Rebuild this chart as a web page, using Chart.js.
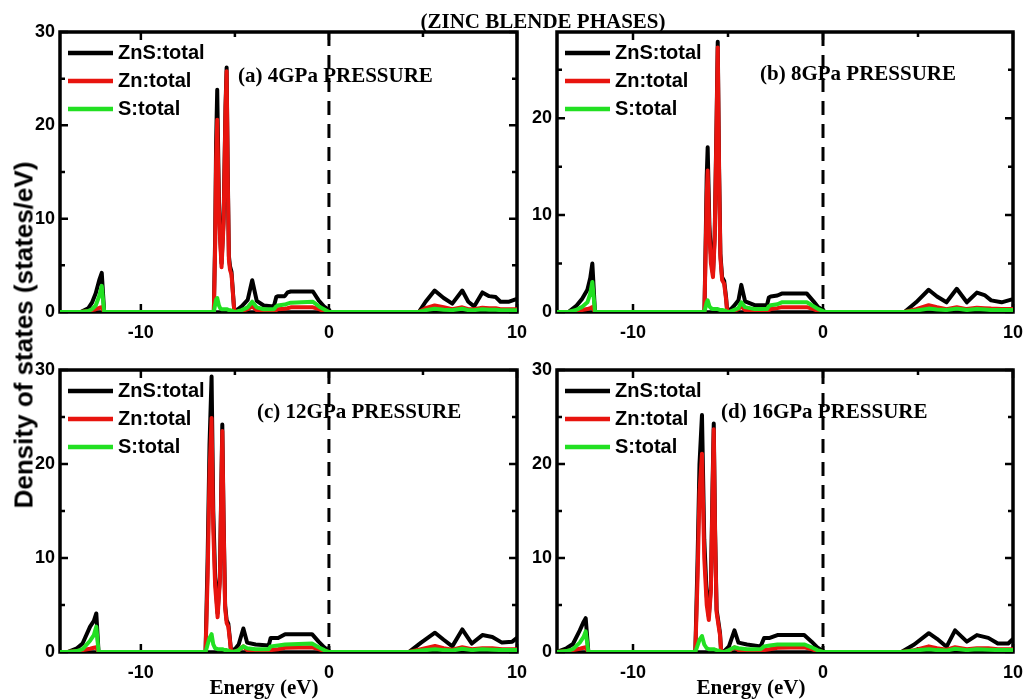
<!DOCTYPE html>
<html>
<head>
<meta charset="utf-8">
<title>ZnS zinc blende DOS</title>
<script src="https://cdn.jsdelivr.net/npm/chart.js@4.4.1/dist/chart.umd.min.js"></script>
<style>
  html, body { margin: 0; padding: 0; background: #fff; }
  body { width: 1023px; height: 699px; position: relative; overflow: hidden; }
  canvas { position: absolute; left: 0; top: 0; }
  .lbl { position: absolute; white-space: nowrap; color: #000; font-weight: bold; transform: translate(-50%, -50%); }
  .serif { font-family: "Liberation Serif", "Times New Roman", serif; }
  .sans { font-family: "Liberation Sans", Arial, sans-serif; }
</style>
</head>
<body>
<canvas id="pa" width="1023" height="699"></canvas>
<canvas id="pb" width="1023" height="699"></canvas>
<canvas id="pc" width="1023" height="699"></canvas>
<canvas id="pd" width="1023" height="699"></canvas>

<div class="lbl serif" style="left:543px; top:21px; font-size:21px;">(ZINC BLENDE PHASES)</div>
<div class="lbl sans" style="left:24px; top:335px; font-size:26px; transform: translate(-50%, -50%) rotate(-90deg);">Density of states (states/eV)</div>
<div class="lbl serif" style="left:264px; top:687px; font-size:21px;">Energy (eV)</div>
<div class="lbl serif" style="left:751px; top:687px; font-size:21px;">Energy (eV)</div>

<script>
// series names and tick values
const seriesNames = ["ZnS:total", "Zn:total", "S:total"];
const xTickValues = [-10, -5, 0, 5, 10];
const yTickValues = [0, 5, 10, 15, 20, 25, 30];

// (a) 4 GPa
const aEnergy = [-14.3, -13.2, -12.8, -12.6, -12.4, -12.2, -12.08, -11.95, -6.12, -6.05,
  -6.0, -5.94, -5.85, -5.78, -5.71, -5.6, -5.5, -5.44, -5.38, -5.32,
  -5.26, -5.18, -5.1, -5.03, -4.96, -4.64, -4.32, -4.08, -3.84, -3.47,
  -2.93, -2.8, -2.72, -2.35, -2.2, -2.03, -0.85, -0.53, -0.27, 0,
  0.1, 4.78, 5.14, 5.62, 6.1, 6.56, 7.09, 7.41, 7.72, 8.16,
  8.52, 8.87, 9.12, 9.58, 10.0];
const aZnS = [0, 0, 0.4, 1.0, 2.0, 3.5, 4.2, 0, 0, 8,
  18, 23.8, 12, 8, 5.2, 10, 22, 26.2, 15, 6,
  4.9, 4.3, 2, 0, 0.1, 0.6, 1.3, 3.4, 1.2, 0.7,
  0.6, 1.6, 1.7, 1.7, 2.1, 2.2, 2.2, 1.2, 0.6, 0.2,
  0, 0, 1.1, 2.3, 1.5, 0.9, 2.3, 1.1, 0.6, 2.1,
  1.7, 1.6, 1.1, 1.1, 1.4];
const aZn = [0, 0, 0.1, 0.2, 0.3, 0.45, 0.5, 0, 0, 7,
  16, 20.6, 11, 7.5, 4.8, 9.5, 21.5, 25.8, 14.5, 5.6,
  4.5, 4.0, 1.8, 0, 0, 0.1, 0.3, 0.6, 0.2, 0.1,
  0.1, 0.2, 0.3, 0.35, 0.4, 0.5, 0.5, 0.3, 0.1, 0,
  0, 0, 0.4, 0.7, 0.5, 0.3, 0.5, 0.3, 0.3, 0.45,
  0.4, 0.4, 0.3, 0.3, 0.3];
const aS = [0, 0, 0.1, 0.3, 0.7, 1.8, 2.8, 0, 0, 0.8,
  1.3, 1.5, 0.7, 0.4, 0.3, 0.3, 0.3, 0.3, 0.25, 0.2,
  0.2, 0.15, 0.1, 0, 0, 0.2, 0.5, 1.1, 0.5, 0.3,
  0.3, 0.6, 0.7, 0.8, 0.9, 1.0, 1.1, 0.6, 0.3, 0,
  0, 0, 0.2, 0.35, 0.25, 0.2, 0.35, 0.2, 0.2, 0.3,
  0.25, 0.25, 0.2, 0.2, 0.2];

// (b) 8 GPa
const bEnergy = [-14, -13.4, -13.0, -12.7, -12.4, -12.25, -12.14, -12.0, -6.24, -6.17,
  -6.12, -6.07, -5.98, -5.9, -5.79, -5.7, -5.6, -5.54, -5.47, -5.4,
  -5.31, -5.2, -5.1, -5.04, -4.95, -4.7, -4.45, -4.3, -4.1, -3.6,
  -2.95, -2.85, -2.75, -2.4, -2.17, -0.85, -0.5, -0.25, 0, 0.1,
  4.29, 4.9, 5.56, 6.0, 6.5, 7.04, 7.57, 8.1, 8.5, 8.85,
  9.4, 9.95, 10];
const bZnS = [0, 0, 0.6, 1.3, 2.3, 3.5, 5.0, 0, 0, 8,
  14, 17.0, 9, 6, 4.0, 8, 20, 27.9, 15, 6,
  3.6, 3.2, 1.5, 0, 0.1, 0.6, 1.2, 2.8, 1.1, 0.7,
  0.7, 1.5, 1.6, 1.7, 1.9, 1.9, 1.1, 0.5, 0.2, 0,
  0, 1.0, 2.3, 1.6, 1.0, 2.4, 1.0, 2.0, 1.75, 1.2,
  1.0, 1.3, 1.3];
const bZn = [0, 0, 0.1, 0.2, 0.3, 0.4, 0.5, 0, 0, 7,
  12, 14.6, 8, 5, 3.6, 7.5, 19.5, 27.3, 14.5, 5.6,
  3.3, 2.9, 1.3, 0, 0, 0.1, 0.3, 0.6, 0.2, 0.1,
  0.1, 0.2, 0.3, 0.4, 0.5, 0.5, 0.3, 0.1, 0, 0,
  0, 0.3, 0.7, 0.5, 0.3, 0.5, 0.3, 0.45, 0.4, 0.35,
  0.3, 0.3, 0.3];
const bS = [0, 0, 0.2, 0.5, 1.0, 1.9, 3.1, 0, 0, 0.6,
  1.0, 1.2, 0.6, 0.4, 0.3, 0.3, 0.3, 0.3, 0.25, 0.2,
  0.2, 0.15, 0.1, 0, 0, 0.2, 0.4, 1.0, 0.5, 0.3,
  0.3, 0.6, 0.7, 0.8, 1.0, 1.0, 0.6, 0.3, 0.1, 0,
  0, 0.15, 0.35, 0.25, 0.2, 0.35, 0.2, 0.3, 0.25, 0.2,
  0.2, 0.2, 0.2];

// (c) 12 GPa
const cEnergy = [-14.3, -13.9, -13.4, -13.1, -12.7, -12.5, -12.37, -12.25, -6.56, -6.45,
  -6.35, -6.24, -6.15, -6.05, -5.92, -5.8, -5.72, -5.67, -5.6, -5.52,
  -5.44, -5.35, -5.27, -5.2, -5.0, -4.8, -4.55, -4.35, -3.9, -3.2,
  -3.1, -2.7, -2.33, -0.9, -0.55, -0.25, 0, 0.1, 4.25, 4.9,
  5.64, 6.1, 6.56, 7.09, 7.6, 8.16, 8.69, 9.2, 9.75, 10];
const cZnS = [0, 0, 0.4, 0.9, 2.7, 3.3, 4.1, 0, 0, 10,
  22, 29.3, 15, 8, 4.1, 8, 18, 24.2, 14, 5,
  3.4, 3.0, 1.5, 0, 0.3, 0.8, 2.5, 1.0, 0.8, 0.7,
  1.5, 1.5, 1.9, 1.9, 1.1, 0.5, 0.1, 0, 0, 1.0,
  2.05, 1.3, 0.6, 2.4, 0.9, 1.8, 1.6, 1.0, 1.1, 1.5];
const cZn = [0, 0, 0.1, 0.2, 0.35, 0.45, 0.5, 0, 0, 8,
  19, 24.9, 13, 7, 3.7, 7.5, 17.5, 23.5, 13.5, 4.7,
  3.1, 2.7, 1.3, 0, 0.05, 0.2, 0.6, 0.2, 0.1, 0.1,
  0.2, 0.3, 0.45, 0.5, 0.3, 0.1, 0, 0, 0, 0.3,
  0.65, 0.4, 0.25, 0.5, 0.3, 0.4, 0.4, 0.3, 0.3, 0.3];
const cS = [0, 0, 0.1, 0.3, 1.2, 1.8, 2.7, 0, 0, 0.8,
  1.5, 1.9, 0.8, 0.4, 0.3, 0.3, 0.3, 0.3, 0.25, 0.2,
  0.2, 0.15, 0.1, 0, 0.05, 0.2, 0.6, 0.4, 0.3, 0.3,
  0.6, 0.7, 0.8, 0.9, 0.5, 0.2, 0, 0, 0, 0.15,
  0.3, 0.2, 0.15, 0.35, 0.2, 0.3, 0.25, 0.2, 0.2, 0.2];

// (d) 16 GPa
const dEnergy = [-14, -13.5, -13.16, -12.8, -12.6, -12.49, -12.35, -6.72, -6.6, -6.5,
  -6.37, -6.25, -6.12, -6.01, -5.9, -5.82, -5.75, -5.68, -5.6, -5.49,
  -5.42, -5.36, -5.2, -4.95, -4.66, -4.45, -4.0, -3.28, -3.1, -2.8,
  -2.4, -0.99, -0.6, -0.3, 0, 0.1, 4.13, 4.8, 5.57, 6.0,
  6.5, 6.95, 7.57, 8.1, 8.7, 9.2, 9.75, 10];
const dZnS = [0, 0.4, 0.85, 2.3, 3.2, 3.6, 0, 0, 10, 20,
  25.2, 12, 6, 3.8, 7, 17, 24.3, 13, 4.5, 3.0,
  2.0, 0, 0.1, 0.6, 2.3, 1.0, 0.8, 0.6, 1.5, 1.5,
  1.8, 1.8, 1.1, 0.5, 0.1, 0, 0, 0.8, 2.0, 1.4,
  0.55, 2.3, 1.1, 1.8, 1.5, 0.9, 0.9, 1.4];
const dZn = [0, 0.1, 0.2, 0.35, 0.45, 0.5, 0, 0, 8, 17,
  21.1, 10, 5, 3.4, 6.5, 16, 23.7, 12.5, 4.2, 2.7,
  1.8, 0, 0, 0.1, 0.5, 0.2, 0.1, 0.1, 0.2, 0.3,
  0.45, 0.5, 0.3, 0.1, 0, 0, 0, 0.2, 0.6, 0.4,
  0.25, 0.5, 0.3, 0.4, 0.4, 0.3, 0.3, 0.3];
const dS = [0, 0.1, 0.3, 1.0, 1.6, 2.2, 0, 0, 0.7, 1.3,
  1.7, 0.8, 0.4, 0.3, 0.3, 0.3, 0.3, 0.25, 0.2, 0.15,
  0.1, 0, 0, 0.2, 0.5, 0.4, 0.3, 0.3, 0.6, 0.7,
  0.8, 0.8, 0.5, 0.2, 0, 0, 0, 0.15, 0.3, 0.2,
  0.15, 0.35, 0.2, 0.3, 0.25, 0.2, 0.2, 0.2];

const colors = ["#000000", "#e8140e", "#22e022"];
const SANS = '"Liberation Sans", Arial, sans-serif';
const SERIF = '"Liberation Serif", "Times New Roman", serif';
const W = 1023, H = 699;

// frame, inward ticks and dashed Fermi level
const framePlugin = {
    id: "frame",
    beforeDatasetsDraw(chart) {
        const { ctx, chartArea: a, scales: { x, y } } = chart;
        ctx.save();
        ctx.strokeStyle = "#000";

        ctx.lineWidth = 3;
        ctx.setLineDash([14, 9]);
        const x0 = x.getPixelForValue(0);
        ctx.beginPath();
        ctx.moveTo(x0, a.top);
        ctx.lineTo(x0, a.bottom);
        ctx.stroke();
        ctx.setLineDash([]);

        ctx.lineWidth = 2.5;
        ctx.beginPath();
        x.ticks.forEach(t => {
            const px = x.getPixelForValue(t.value);
            const len = t.value % 10 === 0 ? 8 : 5;
            ctx.moveTo(px, a.bottom); ctx.lineTo(px, a.bottom - len);
            ctx.moveTo(px, a.top); ctx.lineTo(px, a.top + len);
        });
        y.ticks.forEach(t => {
            const py = y.getPixelForValue(t.value);
            const len = t.value % 10 === 0 ? 8 : 5;
            ctx.moveTo(a.left, py); ctx.lineTo(a.left + len, py);
            ctx.moveTo(a.right, py); ctx.lineTo(a.right - len, py);
        });
        ctx.stroke();

        ctx.lineWidth = 3.5;
        ctx.strokeRect(a.left, a.top, a.right - a.left, a.bottom - a.top);
        ctx.restore();
    },
    afterDatasetsDraw(chart, args, opts) {
        const { ctx, chartArea: a } = chart;
        ctx.save();
        ctx.textBaseline = "middle";
        ctx.textAlign = "left";
        ctx.font = `bold 20px ${SANS}`;
        chart.data.datasets.forEach((ds, i) => {
            const ly = a.top + 21 + i * 28;
            ctx.strokeStyle = ds.borderColor;
            ctx.lineWidth = 4.5;
            ctx.beginPath();
            ctx.moveTo(a.left + 8, ly);
            ctx.lineTo(a.left + 53, ly);
            ctx.stroke();
            ctx.fillStyle = "#000";
            ctx.fillText(ds.label, a.left + 58, ly);
        });
        // panel caption
        ctx.font = `bold 21px ${SERIF}`;
        ctx.fillText(opts.tag, a.left + opts.tagDx, a.top + opts.tagDy);
        ctx.restore();
    },
};

function makePanel(id, box, energy, series, xMin, yMax, tag, tagDx, tagDy) {
    series.forEach(s => {
        if (s.length !== energy.length) throw new Error(id + " length mismatch " + s.length + " vs " + energy.length);
    });

    const datasets = series.map((vals, i) => ({
        label: seriesNames[i],
        data: energy.map((e, k) => ({ x: e, y: vals[k] })),
        borderColor: colors[i],
        borderWidth: 4,
        pointRadius: 0,
        tension: 0,
        borderJoinStyle: "round",
        order: 3 - i,
    }));

    return new Chart(document.getElementById(id), {
        type: "line",
        data: { datasets },
        options: {
            responsive: false,
            animation: false,
            events: [],
            layout: {
                padding: { left: box.left - 40, right: W - box.right, top: box.top, bottom: H - box.bottom - 30 },
            },
            plugins: {
                legend: { display: false },
                tooltip: { enabled: false },
                frame: { tag, tagDx, tagDy },
            },
            scales: {
                x: {
                    type: "linear",
                    min: xMin,
                    max: 10,
                    grid: { display: false, drawTicks: false },
                    border: { display: false },
                    afterBuildTicks: s => { s.ticks = xTickValues.map(v => ({ value: v })); },
                    afterFit: s => { s.height = 30; s.paddingLeft = 0; s.paddingRight = 0; },
                    ticks: {
                        autoSkip: false,
                        maxRotation: 0,
                        padding: 10,
                        color: "#000",
                        font: { family: SANS, size: 18, weight: "bold" },
                        callback: v => (v % 10 === 0 ? String(v) : ""),
                    },
                },
                y: {
                    min: 0,
                    max: yMax,
                    grid: { display: false, drawTicks: false },
                    border: { display: false },
                    afterBuildTicks: s => { s.ticks = yTickValues.filter(v => v <= yMax).map(v => ({ value: v })); },
                    afterFit: s => { s.width = 40; s.paddingTop = 0; s.paddingBottom = 0; },
                    ticks: {
                        autoSkip: false,
                        padding: 5,
                        color: "#000",
                        font: { family: SANS, size: 18, weight: "bold" },
                        callback: v => (v % 10 === 0 ? String(v) : ""),
                    },
                },
            },
        },
        plugins: [framePlugin],
    });
}

makePanel("pa", { left: 60, right: 517, top: 32, bottom: 312 }, aEnergy, [aZnS, aZn, aS], -14.3, 30, "(a) 4GPa PRESSURE", 178, 45);
makePanel("pb", { left: 557, right: 1013, top: 32, bottom: 312 }, bEnergy, [bZnS, bZn, bS], -14.0, 28.9, "(b) 8GPa PRESSURE", 203, 43);
makePanel("pc", { left: 60, right: 517, top: 370, bottom: 652 }, cEnergy, [cZnS, cZn, cS], -14.3, 30, "(c) 12GPa PRESSURE", 197, 43);
makePanel("pd", { left: 557, right: 1013, top: 370, bottom: 652 }, dEnergy, [dZnS, dZn, dS], -14.0, 30, "(d) 16GPa PRESSURE", 164, 43);
</script>
</body>
</html>
